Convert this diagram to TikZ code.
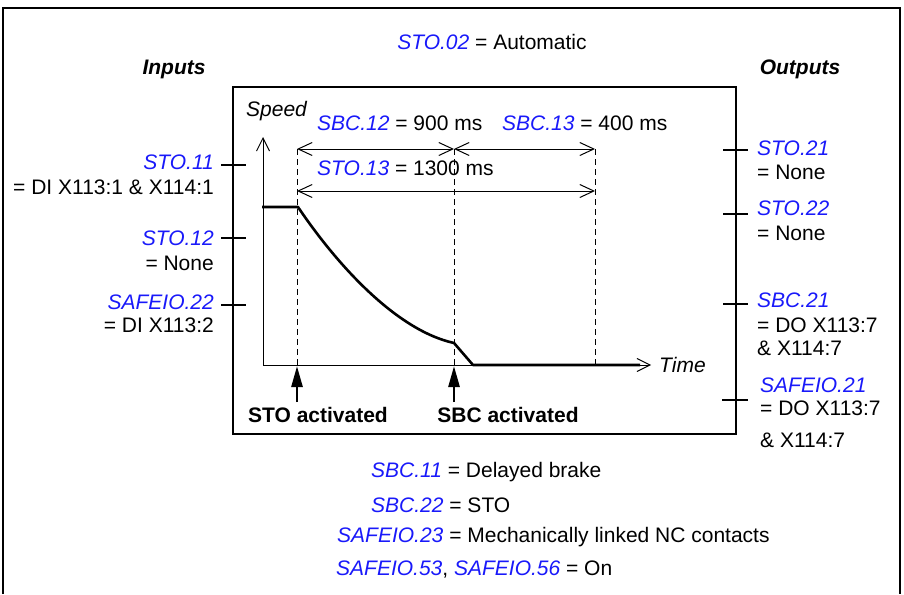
\documentclass[tikz,border=0pt]{standalone}
\usepackage{fontspec}
\setmainfont{Liberation Sans}
\usetikzlibrary{arrows.meta}
\definecolor{pblue}{RGB}{25,25,250}
\newcommand{\pn}[1]{\textcolor{pblue}{\textit{#1}}}
\newcommand{\fsz}{\fontsize{21}{25}\selectfont}
\begin{document}
\begin{tikzpicture}[x=1pt,y=-1pt,
  txt/.style={inner sep=0pt, text height=15pt, text depth=0pt, font=\fsz},
  tickline/.style={line width=2.6pt},
  frameline/.style={line width=1.3pt},
  axisline/.style={line width=1pt, -{Straight Barb[length=13pt,width=13pt]}},
  dimline/.style={line width=1pt, {Straight Barb[length=14pt,width=13pt]}-{Straight Barb[length=14pt,width=13pt]}},
  guide/.style={line width=0.9pt, dash pattern=on 6pt off 4pt},
  speedcurve/.style={line width=2.6pt, line join=round},
  actarrow/.style={line width=2.6pt, -{Triangle[length=21pt,width=11pt]}},
]
\useasboundingbox (0,0) rectangle (904,594);
\fill[white] (0,0) rectangle (904,594);
% outer frame
\draw[frameline] (3,594) -- (3,8) -- (900,8) -- (900,594);
% inner box
\draw[frameline] (233,87) rectangle (736,434);

% top texts
\node[txt] (sto02) at (492,42) {\pn{STO.02} = Automatic};
\node[txt, font=\fsz\bfseries\itshape] (inputs) at (174,67) {Inputs};
\node[txt, font=\fsz\bfseries\itshape] (outputs) at (800,67) {Outputs};

% input ticks
\coordinate (i1a) at (221,165); \coordinate (i1b) at (246,165);
\coordinate (i2a) at (221,238); \coordinate (i2b) at (246,238);
\coordinate (i3a) at (221,305); \coordinate (i3b) at (246,305);
\draw[tickline] (i1a) -- (i1b);
\draw[tickline] (i2a) -- (i2b);
\draw[tickline] (i3a) -- (i3b);
\node[txt, anchor=east] (sto11) at (214,162) {\pn{STO.11}};
\node[txt, anchor=east] (sto11v) at (214,187) {= DI X113:1 \& X114:1};
\node[txt, anchor=east] (sto12) at (214,238) {\pn{STO.12}};
\node[txt, anchor=east] (sto12v) at (214,263) {= None};
\node[txt, anchor=east] (sio22) at (214,302) {\pn{SAFEIO.22}};
\node[txt, anchor=east] (sio22v) at (214,325) {= DI X113:2};

% output ticks
\coordinate (o1a) at (723,150); \coordinate (o1b) at (748,150);
\coordinate (o2a) at (723,214); \coordinate (o2b) at (748,214);
\coordinate (o3a) at (723,304); \coordinate (o3b) at (748,304);
\coordinate (o4a) at (722,400); \coordinate (o4b) at (748,400);
\draw[tickline] (o1a) -- (o1b);
\draw[tickline] (o2a) -- (o2b);
\draw[tickline] (o3a) -- (o3b);
\draw[tickline] (o4a) -- (o4b);
\node[txt, anchor=west] (sto21) at (757,148) {\pn{STO.21}};
\node[txt, anchor=west] (sto21v) at (757,172) {= None};
\node[txt, anchor=west] (sto22) at (757,208) {\pn{STO.22}};
\node[txt, anchor=west] (sto22v) at (757,233) {= None};
\node[txt, anchor=west] (sbc21) at (757,300) {\pn{SBC.21}};
\node[txt, anchor=west] (sbc21v) at (757,325) {= DO X113:7};
\node[txt, anchor=west] (sbc21w) at (757,348) {\& X114:7};
\node[txt, anchor=west] (sio21) at (760,385) {\pn{SAFEIO.21}};
\node[txt, anchor=west] (sio21v) at (760,408) {= DO X113:7};
\node[txt, anchor=west] (sio21w) at (760,440) {\& X114:7};

% axes
\coordinate (origin) at (263,365);
\coordinate (ytop) at (263,137);
\coordinate (xend) at (651,365);
\draw[axisline] (origin) -- (ytop);
\draw[axisline] (origin) -- (xend);
\node[txt, anchor=west, font=\fsz\itshape] (speed) at (246,109) {Speed};
\node[txt, anchor=west, font=\fsz\itshape] (time) at (659,365) {Time};

% dashed guides
\coordinate (g1t) at (297,149); \coordinate (g1b) at (297,365);
\coordinate (g2t) at (454,149); \coordinate (g2b) at (454,365);
\coordinate (g3t) at (595,149); \coordinate (g3b) at (595,365);
\draw[guide] (g1t) -- (g1b);
\draw[guide] (g2t) -- (g2b);
\draw[guide] (g3t) -- (g3b);

% dimension arrows
\coordinate (d1a) at (297,149); \coordinate (d1b) at (454,149); \coordinate (d1c) at (595,149);
\coordinate (d2a) at (297,191); \coordinate (d2b) at (595,191);
\draw[dimline] (d1a) -- (d1b);
\draw[dimline] (d1b) -- (d1c);
\draw[dimline] (d2a) -- (d2b);
\node[txt, anchor=west] (sbc12) at (317,123) {\pn{SBC.12} = 900 ms};
\node[txt, anchor=west] (sbc13) at (502,123) {\pn{SBC.13} = 400 ms};
\node[txt, anchor=west] (sto13) at (317,168) {\pn{STO.13} = 1300 ms};

% speed curve
\draw[speedcurve] (262,207) -- (298,207)
  .. controls (335,262) and (395,330) .. (454,343)
  -- (473,365) -- (640,365);

% activation arrows
\coordinate (a1b) at (297,402); \coordinate (a1t) at (297,366);
\coordinate (a2b) at (454,402); \coordinate (a2t) at (454,366);
\draw[actarrow] (a1b) -- (a1t);
\draw[actarrow] (a2b) -- (a2t);
\node[txt, font=\fsz\bfseries] (stoact) at (318,415) {STO activated};
\node[txt, font=\fsz\bfseries] (sbcact) at (508,415) {SBC activated};

% bottom texts
\node[txt, anchor=west] (sbc11) at (371,470) {\pn{SBC.11} = Delayed brake};
\node[txt, anchor=west] (sbc22) at (371,505) {\pn{SBC.22} = STO};
\node[txt, anchor=west] (sio23) at (337,535) {\pn{SAFEIO.23} = Mechanically linked NC contacts};
\node[txt, anchor=west] (sio53) at (336,568) {\pn{SAFEIO.53}, \pn{SAFEIO.56} = On};
\end{tikzpicture}
\end{document}
